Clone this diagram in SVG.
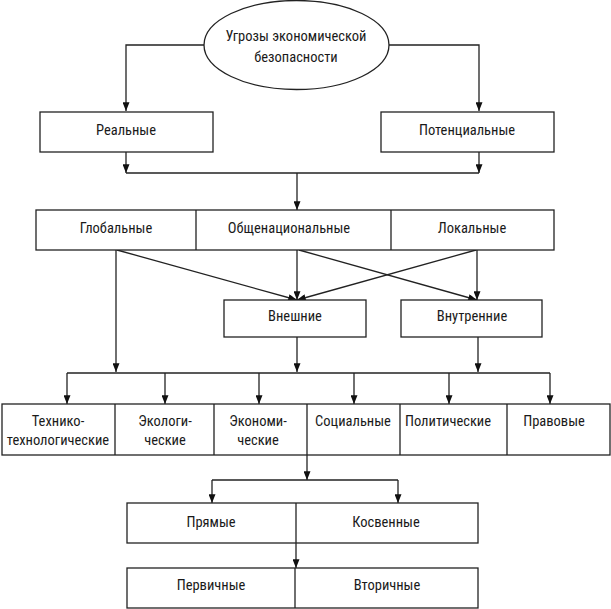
<svg xmlns="http://www.w3.org/2000/svg" width="611" height="609" viewBox="0 0 611 609">
<style>
.b{fill:#fff;stroke:#222;stroke-width:1.3}
.l{fill:none;stroke:#222;stroke-width:1.3}
text{font-family:"Liberation Sans Narrow","Roboto Condensed","DejaVu Sans Condensed",sans-serif;font-size:14.5px;fill:#1a1a1a;text-anchor:middle}
</style>
<defs>
<marker id="a" viewBox="0 0 10 8" refX="10" refY="4" markerWidth="9" markerHeight="7" markerUnits="userSpaceOnUse" orient="auto">
<path d="M0,0L10,4L0,8z" fill="#111"/>
</marker>
</defs>
<rect width="611" height="609" fill="#fff"/>
<g id="connectors" class="l">
<path d="M204,45H126V111" marker-end="url(#a)"/>
<path d="M389,45H479V111" marker-end="url(#a)"/>
<path d="M126,152V173" marker-end="url(#a)"/>
<path d="M479,152V173" marker-end="url(#a)"/>
<path d="M126,173H479"/>
<path d="M297,173V210" marker-end="url(#a)"/>
<path d="M117,250L297,300" marker-end="url(#a)"/>
<path d="M297,250V300" marker-end="url(#a)"/>
<path d="M299,250L477,300" marker-end="url(#a)"/>
<path d="M476,250L297,300" marker-end="url(#a)"/>
<path d="M477,250V300" marker-end="url(#a)"/>
<path d="M116,250V372" marker-end="url(#a)"/>
<path d="M297,337V372" marker-end="url(#a)"/>
<path d="M478,337V372" marker-end="url(#a)"/>
<path d="M67,373H550"/>
<path d="M67,373V404" marker-end="url(#a)"/>
<path d="M165,373V404" marker-end="url(#a)"/>
<path d="M259,373V404" marker-end="url(#a)"/>
<path d="M354,373V404" marker-end="url(#a)"/>
<path d="M449,373V404" marker-end="url(#a)"/>
<path d="M550,373V404" marker-end="url(#a)"/>
<path d="M307,455V480" marker-end="url(#a)"/>
<path d="M212,480H398"/>
<path d="M212,480V503" marker-end="url(#a)"/>
<path d="M398,480V503" marker-end="url(#a)"/>
<path d="M296,543V568" marker-end="url(#a)"/>
</g>
<g id="root">
<ellipse class="b" cx="296.5" cy="45" rx="92.5" ry="44.5"/>
<text x="296" y="41">Угрозы экономической</text>
<text x="296" y="62">безопасности</text>
</g>
<g id="real"><rect class="b" x="40" y="112" width="173" height="40"/><text x="126" y="135">Реальные</text></g>
<g id="potential"><rect class="b" x="381" y="112" width="173" height="40"/><text x="467" y="135">Потенциальные</text></g>
<g id="scale">
<rect class="b" x="36" y="210" width="518" height="40"/>
<path class="l" d="M196,210V250M391,210V250"/>
<text x="116" y="233">Глобальные</text>
<text x="289" y="233">Общенациональные</text>
<text x="472" y="233">Локальные</text>
</g>
<g id="external"><rect class="b" x="224" y="300" width="142" height="37"/><text x="295" y="321">Внешние</text></g>
<g id="internal"><rect class="b" x="401" y="300" width="141" height="37"/><text x="472" y="321">Внутренние</text></g>
<g id="spheres">
<rect class="b" x="2" y="404" width="608" height="51"/>
<path class="l" d="M115,404V455M214,404V455M307,404V455M400,404V455M507,404V455"/>
<text x="58" y="426">Технико-</text>
<text x="58" y="445">технологические</text>
<text x="165" y="426">Экологи-</text>
<text x="165" y="445">ческие</text>
<text x="258" y="426">Экономи-</text>
<text x="258" y="445">ческие</text>
<text x="353" y="426">Социальные</text>
<text x="448" y="426">Политические</text>
<text x="554" y="426">Правовые</text>
</g>
<g id="direct">
<rect class="b" x="127" y="503" width="351" height="40"/>
<path class="l" d="M296,503V543"/>
<text x="211" y="527">Прямые</text>
<text x="386" y="527">Косвенные</text>
</g>
<g id="primary">
<rect class="b" x="127" y="568" width="351" height="40"/>
<path class="l" d="M295,568V608"/>
<text x="211" y="590">Первичные</text>
<text x="387" y="590">Вторичные</text>
</g>
</svg>
